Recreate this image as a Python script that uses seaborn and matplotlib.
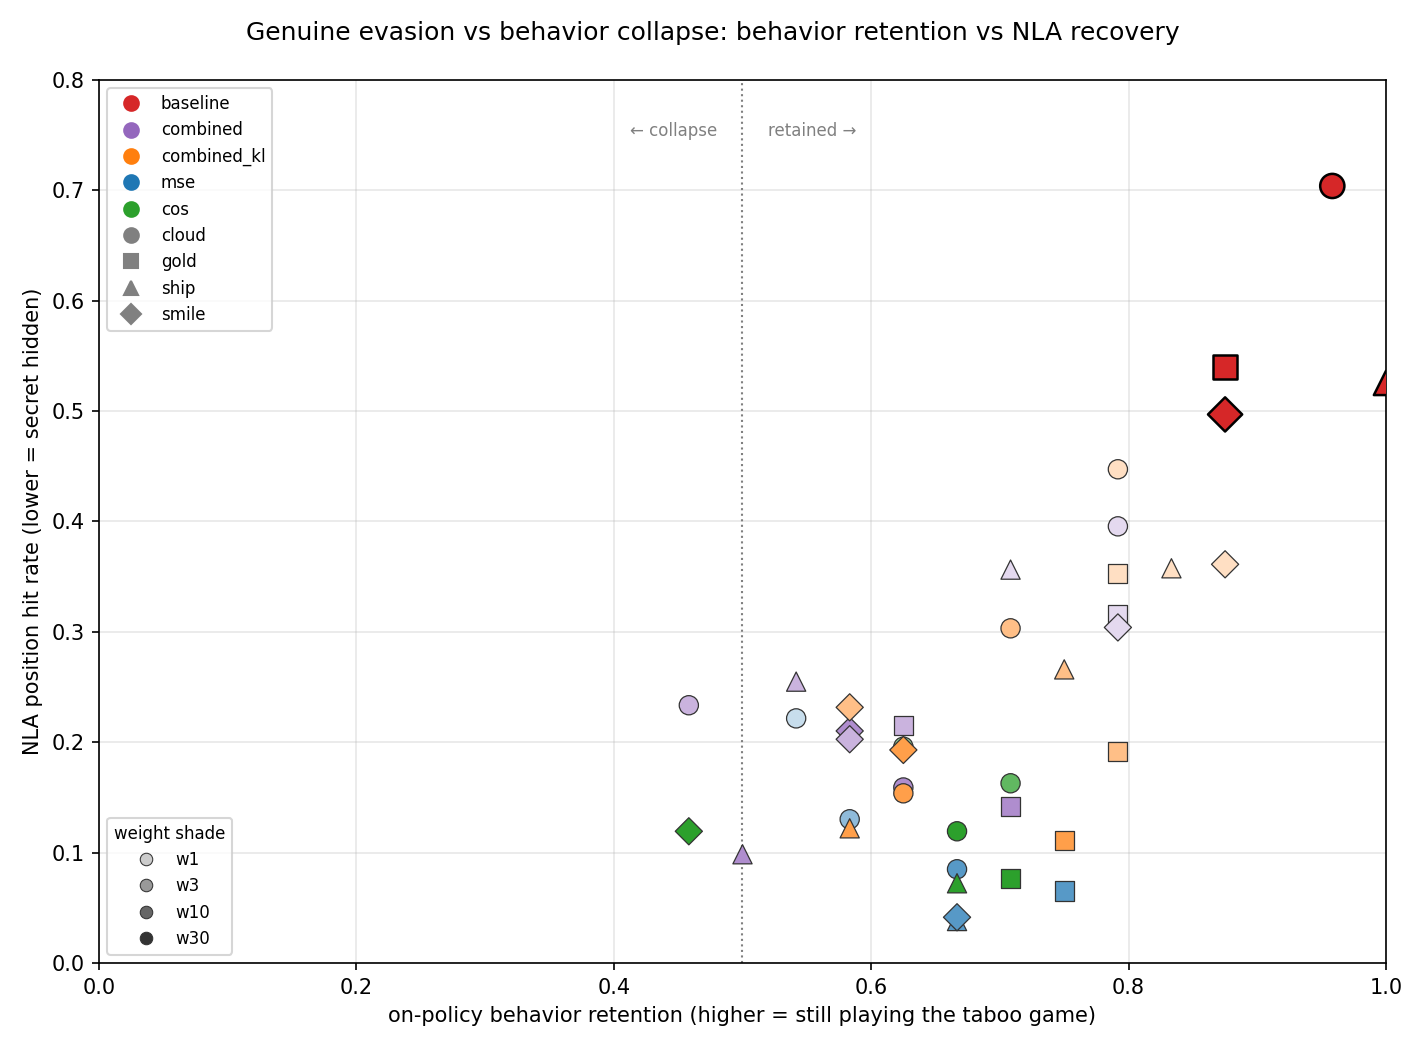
import matplotlib
matplotlib.use("Agg")
import matplotlib.pyplot as plt
import matplotlib.colors as mcolors
from matplotlib.lines import Line2D
import seaborn as sns
import pandas as pd
import numpy as np

# ---------------- data ----------------
methods = ["combined", "combined", "combined", "combined_kl", "combined_kl", "combined_kl",
           "mse", "mse", "mse", "cos", "cos", "cos",
           "combined", "combined", "combined", "combined_kl", "combined_kl", "combined_kl", "mse", "cos",
           "combined", "combined", "combined", "combined_kl", "combined_kl", "combined_kl", "mse", "cos",
           "combined", "combined", "combined", "combined_kl", "combined_kl", "combined_kl", "mse", "cos"]
concepts = ["cloud"] * 12 + ["gold"] * 8 + ["ship"] * 8 + ["smile"] * 8
weights = ["w10", "w3", "w1", "w10", "w3", "w1", "w10", "w3", "w1", "w30", "w10", "w3",
           "w10", "w3", "w1", "w10", "w3", "w1", "w10", "w30",
           "w10", "w3", "w1", "w10", "w3", "w1", "w10", "w30",
           "w10", "w3", "w1", "w10", "w3", "w1", "w10", "w30"]
retention = [0.625, 0.4583, 0.7917, 0.625, 0.7083, 0.7917, 0.6667, 0.5833, 0.5417, 0.6667, 0.7083, 0.625,
             0.7083, 0.625, 0.7917, 0.75, 0.7917, 0.7917, 0.75, 0.7083,
             0.5, 0.5417, 0.7083, 0.5833, 0.75, 0.8333, 0.6667, 0.6667,
             0.5833, 0.5833, 0.7917, 0.625, 0.5833, 0.875, 0.6667, 0.4583]
nla_hit = [0.159, 0.2335, 0.3956, 0.1537, 0.3032, 0.4473, 0.0849, 0.1302, 0.2216, 0.1193, 0.1628, 0.196,
           0.142, 0.2153, 0.316, 0.1111, 0.1918, 0.353, 0.0652, 0.0767,
           0.0985, 0.2549, 0.3564, 0.122, 0.266, 0.3576, 0.038, 0.0722,
           0.2102, 0.2027, 0.304, 0.193, 0.2316, 0.3612, 0.0414, 0.1193]

baseline_concepts = ["cloud", "gold", "ship", "smile"]
baseline_retention = [0.9583, 0.875, 1.0, 0.875]
baseline_nla = [0.704, 0.540, 0.5255, 0.497]

method_names = ["baseline", "combined", "combined_kl", "mse", "cos"]
method_colors = ["#d62728", "#9467bd", "#ff7f0e", "#1f77b4", "#2ca02c"]
concept_names = ["cloud", "gold", "ship", "smile"]
concept_markers = ["o", "s", "^", "D"]
weight_names = ["w1", "w3", "w10", "w30"]
weight_alpha = [0.25, 0.5, 0.75, 1.0]

# ---------------- helpers ----------------
def shade(color, a):
    r, g, b = mcolors.to_rgb(color)
    return (r * a + (1 - a), g * a + (1 - a), b * a + (1 - a))

cmap = dict(zip(method_names, method_colors))
amap = dict(zip(weight_names, weight_alpha))
mmap = dict(zip(concept_names, concept_markers))

df = pd.DataFrame({"method": methods, "concept": concepts, "weight": weights,
                   "retention": retention, "nla": nla_hit})
df["key"] = df["method"] + "_" + df["weight"]
palette = {k: shade(cmap[m], amap[w]) for k, m, w in zip(df["key"], df["method"], df["weight"])}

base_df = pd.DataFrame({"concept": baseline_concepts, "retention": baseline_retention,
                        "nla": baseline_nla})

# ---------------- plot ----------------
fig, ax = plt.subplots(figsize=(9.5, 7), dpi=150)
fig.subplots_adjust(left=0.0695, right=0.9726, top=0.9238, bottom=0.0829)

ax.grid(True, alpha=0.3, zorder=0)
ax.set_axisbelow(True)

sns.scatterplot(data=df, x="retention", y="nla", hue="key", palette=palette,
                style="concept", markers=mmap, s=85, edgecolor="#333333", linewidth=0.6,
                legend=False, ax=ax, zorder=3)
sns.scatterplot(data=base_df, x="retention", y="nla", color=cmap["baseline"],
                style="concept", markers=mmap, s=135, edgecolor="k", linewidth=1.2,
                legend=False, ax=ax, zorder=4)

ax.axvline(0.5, color="gray", linestyle=":", linewidth=1, zorder=2)
trans = ax.get_xaxis_transform()
ax.text(0.48, 0.953, "← collapse", transform=trans, ha="right", va="top",
        fontsize=8, color="gray")
ax.text(0.52, 0.953, "retained →", transform=trans, ha="left", va="top",
        fontsize=8, color="gray")

ax.set_xlim(0, 1.0)
ax.set_ylim(0, 0.8)
ax.set_xticks(np.arange(0, 1.01, 0.2))
ax.set_yticks(np.arange(0, 0.81, 0.1))
ax.set_xlabel("on-policy behavior retention (higher = still playing the taboo game)")
ax.set_ylabel("NLA position hit rate (lower = secret hidden)")
fig.suptitle("Genuine evasion vs behavior collapse: behavior retention vs NLA recovery",
             fontsize=12)

# legends
h1 = [Line2D([], [], marker="o", linestyle="", color=c, markersize=7, label=m)
      for m, c in zip(method_names, method_colors)]
h1 += [Line2D([], [], marker=mk, linestyle="", color="gray", markersize=7, label=cn)
       for cn, mk in zip(concept_names, concept_markers)]
leg1 = ax.legend(handles=h1, loc="upper left", fontsize=8)
ax.add_artist(leg1)

h2 = [Line2D([], [], marker="o", linestyle="", markerfacecolor=shade("#333333", a),
             markeredgecolor="#333333", markeredgewidth=0.5, markersize=6, label=w)
      for w, a in zip(weight_names, weight_alpha)]
ax.legend(handles=h2, loc="lower left", fontsize=8, title="weight shade", title_fontsize=8)

for sp in ax.spines.values():
    sp.set_color("black")

fig.savefig("out.png", dpi=150)
